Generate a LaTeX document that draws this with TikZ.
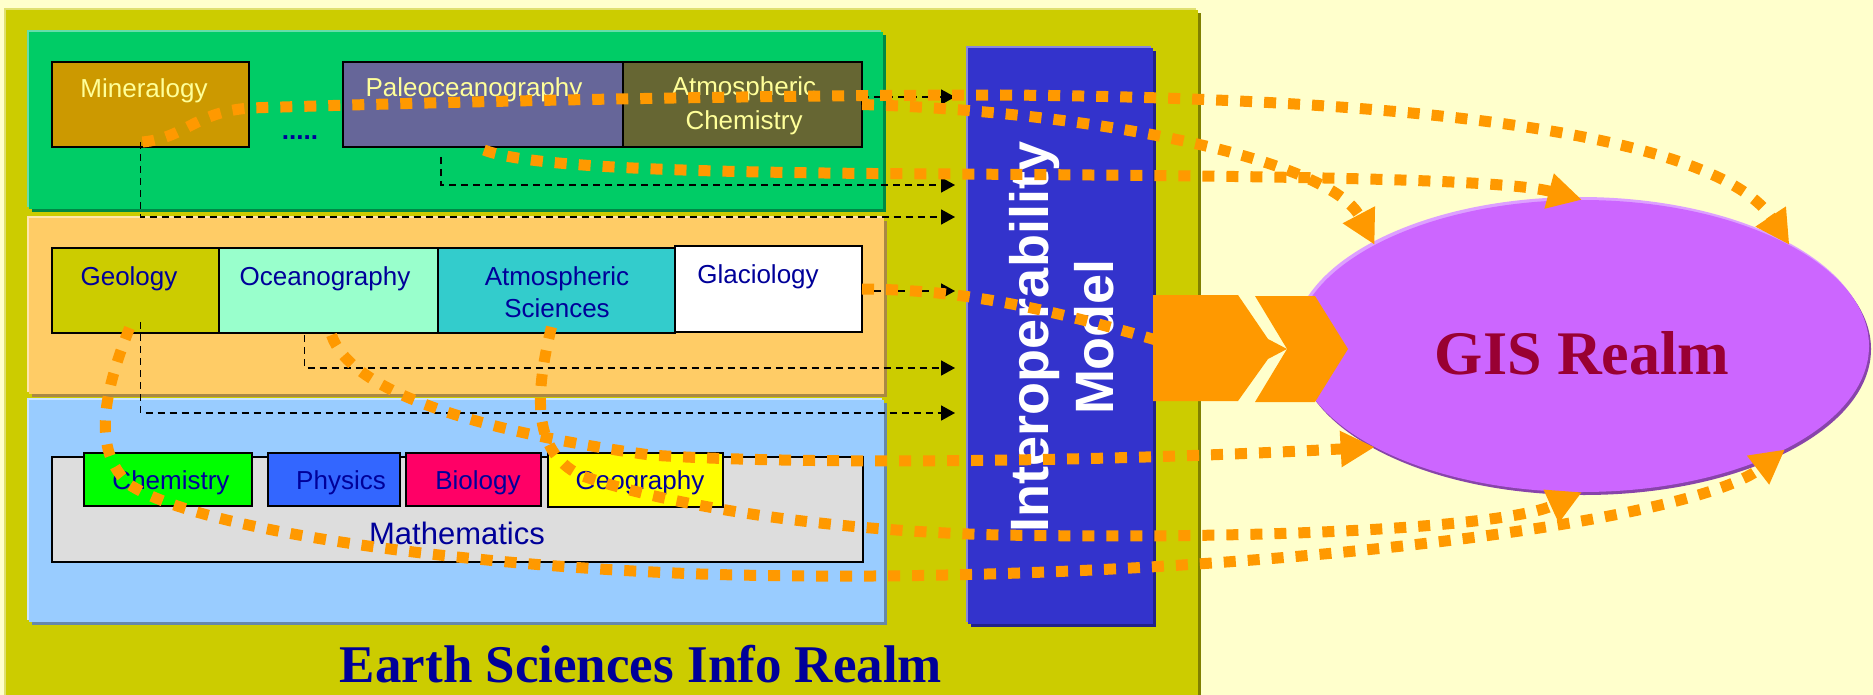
\documentclass[tikz,border=0pt]{standalone}
\usepackage{fontspec}
\setmainfont{Liberation Sans}
\newfontfamily\serfam{Liberation Serif}
\usetikzlibrary{arrows.meta,shapes.geometric,calc,shadows}
\definecolor{bgY}{HTML}{FFFFCC}
\definecolor{cOlive}{HTML}{CCCC00}
\definecolor{cOliveD}{HTML}{808000}
\definecolor{cOliveL}{HTML}{E0E070}
\definecolor{cGreen}{HTML}{00CC66}
\definecolor{cGreenD}{HTML}{008844}
\definecolor{cGreenL}{HTML}{66DDAA}
\definecolor{cOrP}{HTML}{FFCC66}
\definecolor{cOrPD}{HTML}{AA8844}
\definecolor{cOrPL}{HTML}{FFE6AA}
\definecolor{cBlP}{HTML}{99CCFF}
\definecolor{cBlPD}{HTML}{6688AA}
\definecolor{cBlPL}{HTML}{CCE6FF}
\definecolor{cInt}{HTML}{3333CC}
\definecolor{cIntD}{HTML}{222288}
\definecolor{cIntL}{HTML}{8888DD}
\definecolor{cMin}{HTML}{CC9900}
\definecolor{cPaleo}{HTML}{666699}
\definecolor{cAchem}{HTML}{666633}
\definecolor{cTxtY}{HTML}{FFFF99}
\definecolor{cOcean}{HTML}{99FFCC}
\definecolor{cAsci}{HTML}{33CCCC}
\definecolor{cMath}{HTML}{DDDDDD}
\definecolor{cChem}{HTML}{00FF00}
\definecolor{cPhys}{HTML}{3366FF}
\definecolor{cBio}{HTML}{FF0066}
\definecolor{cGeog}{HTML}{FFFF00}
\definecolor{cNavy}{HTML}{000099}
\definecolor{cOrange}{HTML}{FF9900}
\definecolor{cGis}{HTML}{CC66FF}
\definecolor{cGisD}{HTML}{8844AA}
\definecolor{cGisL}{HTML}{DDA0FF}
\definecolor{cGisT}{HTML}{990033}
\newcommand\boxfont{\fontsize{26}{33}\selectfont}
\newcommand\mthfont{\fontsize{31}{38}\selectfont}
\newcommand\intfont{\bfseries\fontsize{54}{65}\selectfont}
\newcommand\esrfont{\serfam\bfseries\fontsize{53}{60}\selectfont}
\newcommand\gisfont{\serfam\bfseries\fontsize{62}{70}\selectfont}
\tikzset{
  panel/.style={inner sep=0pt, outer sep=0pt, anchor=north west},
  hl/.style={general shadow={shadow xshift=-2pt, shadow yshift=2pt, fill=#1}},
  sh/.style={drop shadow={shadow xshift=3pt, shadow yshift=-3pt, fill=#1, opacity=1}},
  box/.style={draw=black, line width=1.8pt, inner sep=0pt, outer sep=0pt, anchor=north west},
  ty/.style={text=cTxtY, font=\boxfont, anchor=base, inner sep=0pt},
  tn/.style={text=cNavy, font=\boxfont, anchor=base, inner sep=0pt},
  blk/.style={draw=black, line width=1.8pt, dash pattern=on 7pt off 5pt, -{Triangle[length=14pt,width=15pt]}},
  odot/.style={draw=cOrange, line width=11pt, dash pattern=on 12pt off 12pt},
  oarr/.style={odot, -{Triangle[length=34pt,width=34pt]}}
}
\begin{document}
\begin{tikzpicture}[x=1pt,y=-1pt]
\useasboundingbox (0,0) rectangle (1873,695);
\fill[bgY] (0,0) rectangle (1873,695);
% realm and panels
\node[panel, fill=cOlive, hl=cOliveL, sh=cOliveD, minimum width=1192pt, minimum height=700pt] (realm) at (6,10) {};
\node[panel, fill=cGreen, hl=cGreenL, sh=cGreenD, minimum width=854pt, minimum height=177pt] (pgreen) at (29,32) {};
\node[panel, fill=cOrP, hl=cOrPL, sh=cOrPD, minimum width=855pt, minimum height=176pt] (porange) at (29,218) {};
\node[panel, fill=cBlP, hl=cBlPL, sh=cBlPD, minimum width=855pt, minimum height=222pt] (pblue) at (29,400) {};
% boxes
\node[box, fill=cMin, minimum width=197pt, minimum height=85pt] (min) at (52,62) {};
\node[box, fill=cPaleo, minimum width=280pt, minimum height=85pt] (paleo) at (343,62) {};
\node[box, fill=cAchem, minimum width=239pt, minimum height=85pt] (achem) at (623,62) {};
\node[box, fill=cOlive, minimum width=167pt, minimum height=85pt] (geo) at (52,248) {};
\node[box, fill=cOcean, minimum width=219pt, minimum height=85pt] (ocean) at (219,248) {};
\node[box, fill=cAsci, minimum width=237pt, minimum height=85pt] (asci) at (438,248) {};
\node[box, fill=white, minimum width=187pt, minimum height=86pt] (glac) at (675,246) {};
\node[box, fill=cMath, minimum width=811pt, minimum height=105pt] (math) at (52,457) {};
\node[box, fill=cChem, minimum width=168pt, minimum height=53pt] (chem) at (84,453) {};
\node[box, fill=cPhys, minimum width=132pt, minimum height=53pt] (phys) at (268,453) {};
\node[box, fill=cBio, minimum width=135pt, minimum height=53pt] (bio) at (406,453) {};
\node[box, fill=cGeog, minimum width=175pt, minimum height=54pt] (geog) at (548,453) {};
% texts
\node[ty] (tmin) at (144,98) {Mineralogy};
\node[ty] (tpaleo) at (474,97) {Paleoceanography};
\node[ty] (tachem1) at (744,96) {Atmospheric};
\node[ty] (tachem2) at (744,130) {Chemistry};
\node[text=cNavy, font=\boxfont\bfseries, anchor=base, inner sep=0pt] (dots) at (300,140) {.....};
\node[tn] (tgeo) at (129,285) {Geology};
\node[tn] (tocean) at (325,285) {Oceanography};
\node[tn] (tasci1) at (557,285) {Atmospheric};
\node[tn] (tasci2) at (557,317) {Sciences};
\node[tn] (tglac) at (758,283) {Glaciology};
\node[tn] (tchem) at (171,489) {Chemistry};
\node[tn] (tphys) at (341,489) {Physics};
\node[tn] (tbio) at (478,489) {Biology};
\node[tn] (tgeog) at (640,489) {Geography};
\node[tn, font=\mthfont] (tmath) at (457,544) {Mathematics};
\node[text=cNavy, font=\esrfont, anchor=base, inner sep=0pt] (esr) at (641,682) {Earth Sciences Info Realm};
% interoperability model
\node[panel, fill=cInt, hl=cIntL, sh=cIntD, minimum width=185pt, minimum height=576pt] (interop) at (968,48) {};
\node[rotate=90, text=white, font=\intfont, align=center, inner sep=0pt] (itext) at (1062,337) {Interoperability\\Model};
% black dashed arrows
\coordinate (eA) at (955,97);
\coordinate (eB) at (955,185);
\coordinate (eC) at (955,217);
\coordinate (eD) at (955,291);
\coordinate (eE) at (955,368);
\coordinate (eF) at (955,413);
\draw[blk] (achem.east |- eA) -- (eA);
\draw[blk] ($(paleo.south west)+(98,10)$) |- (eB);
\draw[blk] ($(min.south)+(-10,-5)$) |- (eC);
\draw[blk] (glac.east |- eD) -- (eD);
\draw[blk] ($(ocean.south)+(-24,2)$) |- (eE);
\draw[blk] ($(geo.south)+(5,-11)$) |- (eF);
% GIS ellipse
\node[ellipse, fill=cGis, inner sep=0pt, minimum width=574pt, minimum height=292pt,
  general shadow={shadow xshift=-2pt, shadow yshift=3pt, fill=cGisL},
  drop shadow={shadow xshift=2pt, shadow yshift=-3pt, fill=cGisD, opacity=1}] (gis) at (1582,346) {};
% orange dotted connectors
\draw[oarr] ($(min.south)+(-8,-5)$) .. controls (185,138) and (195,112) .. (250,108)
  .. controls (500,100) and (800,95) .. (1000,95)
  .. controls (1450,98) and (1720,140) .. (gis.26);
\draw[oarr] (achem.east) .. controls (1100,112) and (1330,160) .. (gis.154);
\draw[oarr] ($(paleo.south)+(1,3)$) .. controls (530,168) and (700,173) .. (955,174)
  .. controls (1250,176) and (1500,178) .. (gis.90);
\draw[odot] (glac.east) .. controls (960,290) and (1040,305) .. (1190,350);
\draw[oarr] ($(ocean.south)+(3,2)$) .. controls (350,390) and (470,430) .. (650,455)
  .. controls (800,465) and (1100,462) .. (gis.206);
\draw[oarr] ($(asci.south)+(-5,-6)$) .. controls (536,390) and (530,450) .. (580,475)
  .. controls (650,500) and (800,530) .. (1000,535)
  .. controls (1300,540) and (1510,525) .. (gis.270);
\draw[oarr] ($(geo.south)+(-6,-5)$) .. controls (105,390) and (90,450) .. (130,485)
  .. controls (200,530) and (450,565) .. (700,574)
  .. controls (1150,588) and (1680,530) .. (gis.333);
% chevrons
\fill[cOrange] (1153,295) -- (1238,295) -- (1268,339) -- (1287,349) -- (1268,359) -- (1238,401) -- (1153,401) -- cycle;
\fill[cOrange] (1255,296) -- (1315,296) -- (1348,349) -- (1315,402) -- (1255,402) -- (1287,349) -- cycle;
\node[text=cGisT, font=\gisfont, anchor=base, inner sep=0pt] (gist) at (1582,374) {GIS Realm};
\end{tikzpicture}
\end{document}
